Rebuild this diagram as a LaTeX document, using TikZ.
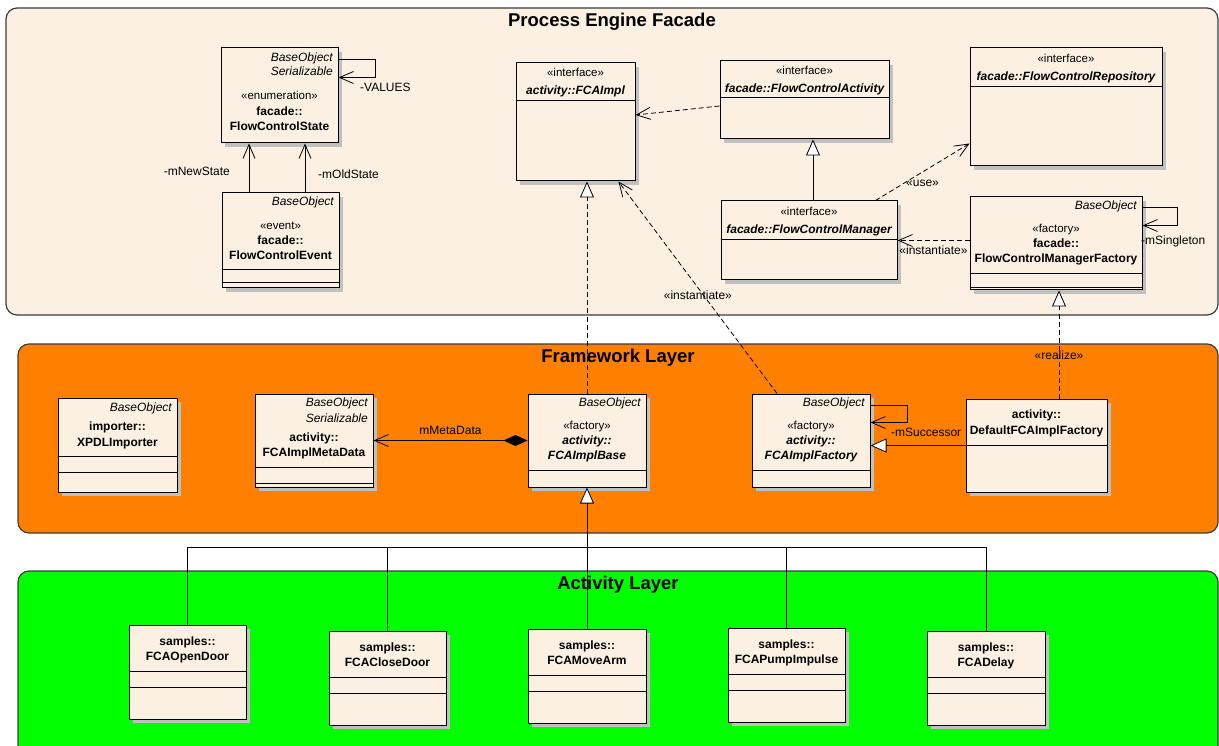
\documentclass[tikz,border=0pt]{standalone}
\usepackage{fontspec}
\setmainfont{Liberation Sans}
\usetikzlibrary{positioning,calc,arrows.meta,shadows}

\definecolor{facadebg}{RGB}{251,240,226}
\definecolor{classbg}{RGB}{251,240,226}
\definecolor{framebg}{RGB}{255,128,0}
\definecolor{actbg}{RGB}{0,255,0}
\definecolor{layerline}{RGB}{60,60,60}
\definecolor{shadowgray}{RGB}{192,192,192}

\tikzset{
  layerbox/.style={draw=layerline, line width=1.2pt, rounded corners=11pt},
  laytitle/.style={inner sep=0pt, font=\fontsize{18.5}{22}\selectfont\bfseries},
  cls/.style={draw, fill=classbg, line width=1pt, inner sep=0pt,
    drop shadow={shadow xshift=4pt, shadow yshift=-4pt, fill=shadowgray, opacity=1}},
  cline/.style={line width=1pt},
  txt/.style={inner sep=0pt, text height=8pt, text depth=2.5pt, font=\fontsize{12}{14}\selectfont},
  hdr/.style={txt, anchor=east, font=\fontsize{12}{14}\selectfont\itshape},
  stereo/.style={txt, font=\fontsize{11.5}{14}\selectfont},
  nm/.style={txt, font=\fontsize{12}{14}\selectfont\bfseries},
  inm/.style={txt, font=\fontsize{12}{14}\selectfont\bfseries\itshape},
  lbl/.style={txt},
  conn/.style={line width=0.8pt},
  assoc/.style={conn, -{Straight Barb[length=14pt,width=12pt]}},
  dep/.style={assoc, dash pattern=on 5pt off 3pt},
  inh/.style={conn, -{Triangle[open, length=16pt, width=14pt, fill=white]}},
  real/.style={inh, dash pattern=on 5pt off 3pt},
  comp/.style={conn, {Diamond[length=24pt,width=11pt]}-{Straight Barb[length=14pt,width=12pt]}},
}

\begin{document}
\begin{tikzpicture}[x=1pt, y=-1pt]
\useasboundingbox (0,0) rectangle (1219,746);
\clip (0,0) rectangle (1219,746);

% layers
\draw[layerbox, fill=facadebg] (6,8) rectangle (1218,315);
\draw[layerbox, fill=framebg] (18,344) rectangle (1218,533);
\draw[layerbox, fill=actbg] (18,571) rectangle (1218,775);
\node[laytitle] (facadeT) at (612,22) {Process Engine Facade};
\node[laytitle] (frameT) at (618,358) {Framework Layer};
\node[laytitle] (actT) at (618,585) {Activity Layer};

% process engine facade
\node[cls, minimum width=117pt, minimum height=95pt] (state) at (279.5,95.5) {};
\node[hdr] (stateB) at (333,59) {BaseObject};
\node[hdr] (stateS) at (333,73) {Serializable};
\node[stereo] (stateE) at (279.5,97) {«enumeration»};
\node[nm] (stateP) at (279.5,113) {facade::};
\node[nm] (stateN) at (279.5,128) {FlowControlState};

\node[cls, minimum width=117pt, minimum height=95pt] (event) at (280.5,240.5) {};
\node[hdr] (eventB) at (334,203) {BaseObject};
\node[stereo] (eventE) at (280.5,227) {«event»};
\node[nm] (eventP) at (280.5,242) {facade::};
\node[nm] (eventN) at (280.5,257) {FlowControlEvent};
\draw[cline] ($(event.north west)+(0,77)$) -- ($(event.north east)+(0,77)$);
\draw[cline] ($(event.north west)+(0,90)$) -- ($(event.north east)+(0,90)$);

\node[cls, minimum width=119pt, minimum height=118pt] (impl) at (575.5,122) {};
\node[stereo] (implE) at (575.5,74) {«interface»};
\node[inm] (implN) at (575.5,92) {activity::FCAImpl};
\draw[cline] ($(impl.north west)+(0,38)$) -- ($(impl.north east)+(0,38)$);

\node[cls, minimum width=169pt, minimum height=78pt] (activity) at (804.5,100) {};
\node[stereo] (activityE) at (804.5,72) {«interface»};
\node[inm] (activityN) at (804.5,90) {facade::FlowControlActivity};
\draw[cline] ($(activity.north west)+(0,37)$) -- ($(activity.north east)+(0,37)$);

\node[cls, minimum width=176pt, minimum height=79pt] (manager) at (809,240.5) {};
\node[stereo] (managerE) at (809,213) {«interface»};
\node[inm] (managerN) at (809,231) {facade::FlowControlManager};
\draw[cline] ($(manager.north west)+(0,39)$) -- ($(manager.north east)+(0,39)$);

\node[cls, minimum width=192pt, minimum height=118pt] (repo) at (1066,107) {};
\node[stereo] (repoE) at (1066,60) {«interface»};
\node[inm] (repoN) at (1066,78) {facade::FlowControlRepository};
\draw[cline] ($(repo.north west)+(0,39)$) -- ($(repo.north east)+(0,39)$);

\node[cls, minimum width=172pt, minimum height=93pt] (mfactory) at (1056,243.5) {};
\node[hdr] (mfactoryB) at (1137,207) {BaseObject};
\node[stereo] (mfactoryE) at (1056,230) {«factory»};
\node[nm] (mfactoryP) at (1056,245) {facade::};
\node[nm] (mfactoryN) at (1056,260) {FlowControlManagerFactory};
\draw[cline] ($(mfactory.north west)+(0,77)$) -- ($(mfactory.north east)+(0,77)$);
\draw[cline] ($(mfactory.north west)+(0,91)$) -- ($(mfactory.north east)+(0,91)$);

% framework layer
\node[cls, minimum width=119pt, minimum height=94pt] (xpdl) at (117.5,445) {};
\node[hdr] (xpdlB) at (172,409) {BaseObject};
\node[nm] (xpdlP) at (117.5,428) {importer::};
\node[nm] (xpdlN) at (117.5,444) {XPDLImporter};
\draw[cline] ($(xpdl.north west)+(0,59)$) -- ($(xpdl.north east)+(0,59)$);
\draw[cline] ($(xpdl.north west)+(0,75)$) -- ($(xpdl.north east)+(0,75)$);

\node[cls, minimum width=118pt, minimum height=93pt] (meta) at (314,440.5) {};
\node[hdr] (metaB) at (368,404) {BaseObject};
\node[hdr] (metaS) at (368,420) {Serializable};
\node[nm] (metaP) at (314,439) {activity::};
\node[nm] (metaN) at (314,454) {FCAImplMetaData};
\draw[cline] ($(meta.north west)+(0,74)$) -- ($(meta.north east)+(0,74)$);
\draw[cline] ($(meta.north west)+(0,90)$) -- ($(meta.north east)+(0,90)$);

\node[cls, minimum width=118pt, minimum height=93pt] (base) at (587,440.5) {};
\node[hdr] (baseB) at (641,404) {BaseObject};
\node[stereo] (baseE) at (587,427) {«factory»};
\node[inm] (baseP) at (587,442) {activity::};
\node[inm] (baseN) at (587,457) {FCAImplBase};
\draw[cline] ($(base.north west)+(0,77)$) -- ($(base.north east)+(0,77)$);

\node[cls, minimum width=118pt, minimum height=93pt] (factory) at (811,440.5) {};
\node[hdr] (factoryB) at (865,404) {BaseObject};
\node[stereo] (factoryE) at (811,427) {«factory»};
\node[inm] (factoryP) at (811,442) {activity::};
\node[inm] (factoryN) at (811,457) {FCAImplFactory};
\draw[cline] ($(factory.north west)+(0,77)$) -- ($(factory.north east)+(0,77)$);

\node[cls, minimum width=141pt, minimum height=93pt] (default) at (1036.5,445.5) {};
\node[nm] (defaultP) at (1036.5,416) {activity::};
\node[nm] (defaultN) at (1036.5,432) {DefaultFCAImplFactory};
\draw[cline] ($(default.north west)+(0,47)$) -- ($(default.north east)+(0,47)$);

% activity layer
\node[cls, minimum width=117pt, minimum height=94pt] (opendoor) at (187.5,672) {};
\node[nm] (opendoorP) at (187.5,643) {samples::};
\node[nm] (opendoorN) at (187.5,658) {FCAOpenDoor};
\draw[cline] ($(opendoor.north west)+(0,47)$) -- ($(opendoor.north east)+(0,47)$);
\draw[cline] ($(opendoor.north west)+(0,63)$) -- ($(opendoor.north east)+(0,63)$);

\node[cls, minimum width=117pt, minimum height=94pt] (closedoor) at (387.5,678) {};
\node[nm] (closedoorP) at (387.5,649) {samples::};
\node[nm] (closedoorN) at (387.5,664) {FCACloseDoor};
\draw[cline] ($(closedoor.north west)+(0,47)$) -- ($(closedoor.north east)+(0,47)$);
\draw[cline] ($(closedoor.north west)+(0,63)$) -- ($(closedoor.north east)+(0,63)$);

\node[cls, minimum width=118pt, minimum height=94pt] (movearm) at (587,676) {};
\node[nm] (movearmP) at (587,647) {samples::};
\node[nm] (movearmN) at (587,662) {FCAMoveArm};
\draw[cline] ($(movearm.north west)+(0,47)$) -- ($(movearm.north east)+(0,47)$);
\draw[cline] ($(movearm.north west)+(0,63)$) -- ($(movearm.north east)+(0,63)$);

\node[cls, minimum width=117pt, minimum height=94pt] (pump) at (786.5,675) {};
\node[nm] (pumpP) at (786.5,646) {samples::};
\node[nm] (pumpN) at (786.5,661) {FCAPumpImpulse};
\draw[cline] ($(pump.north west)+(0,47)$) -- ($(pump.north east)+(0,47)$);
\draw[cline] ($(pump.north west)+(0,63)$) -- ($(pump.north east)+(0,63)$);

\node[cls, minimum width=118pt, minimum height=94pt] (delay) at (986,678) {};
\node[nm] (delayP) at (986,649) {samples::};
\node[nm] (delayN) at (986,664) {FCADelay};
\draw[cline] ($(delay.north west)+(0,47)$) -- ($(delay.north east)+(0,47)$);
\draw[cline] ($(delay.north west)+(0,63)$) -- ($(delay.north east)+(0,63)$);

% connectors in the facade
\draw[assoc] ($(state.north east)+(0,12)$) -- ++(37,0) |- ($(state.north east)+(0,30)$);
\node[lbl, anchor=west] (valuesL) at (360,89) {-VALUES};
\draw[assoc] ($(event.north)+(-31.5,0)$) -- ($(state.south)+(-30.5,0)$);
\draw[assoc] ($(event.north)+(24.5,0)$) -- ($(state.south)+(25.5,0)$);
\node[lbl, anchor=east] (newL) at (230,173) {-mNewState};
\node[lbl, anchor=west] (oldL) at (318,176) {-mOldState};

\draw[dep] ($(activity.west)+(0,6)$) -- ($(impl.east)+(0,-7)$);
\draw[inh] ($(manager.north)+(4,0)$) -- ($(activity.south)+(8.5,0)$);
\draw[dep] ($(manager.north east)+(-22,0)$) -- ($(repo.south west)+(0,-23)$)
  node[lbl, midway, below=6pt] (useL) {«use»};
\draw[dep] (mfactory.west |- manager.east) -- (manager.east)
  node[lbl, midway, below=6pt] (instL) {«instantiate»};
\draw[assoc] ($(mfactory.north east)+(0,11)$) -- ++(35,0) |- ($(mfactory.north east)+(0,29)$);
\node[lbl, anchor=west] (singleL) at (1141,242) {-mSingleton};

% connectors across the layers
\draw[real] (base.north) -- (base.north |- impl.south);
\draw[dep] ($(factory.north)+(-34,0)$) -- ($(impl.south east)+(-17,0)$)
  node[lbl, pos=0.455, xshift=-7pt] (inst2L) {«instantiate»};
\coordinate (dtop) at ($(default.north)+(22.5,0)$);
\draw[real] (dtop) -- (dtop |- mfactory.south)
  node[lbl, pos=0.39] (realL) {«realize»};

% framework layer connectors
\draw[comp] (base.west) -- (base.west -| meta.east)
  node[lbl, midway, above=3pt] (metaL) {mMetaData};
\draw[inh] (default.west) -- (default.west -| factory.east);
\draw[assoc] ($(factory.north east)+(0,12)$) -- ++(37,0) |- ($(factory.north east)+(0,29)$);
\node[lbl, anchor=west] (succL) at (891,434) {-mSuccessor};

% activity tree
\coordinate (fork) at ($(base.south)+(0,60)$);
\draw[conn] (opendoor.north) |- (fork);
\draw[conn] (closedoor.north) |- (fork);
\draw[conn] (pump.north) |- (fork);
\draw[conn] (delay.north) |- (fork);
\draw[inh] (movearm.north) -- (base.south);
\end{tikzpicture}
\end{document}
